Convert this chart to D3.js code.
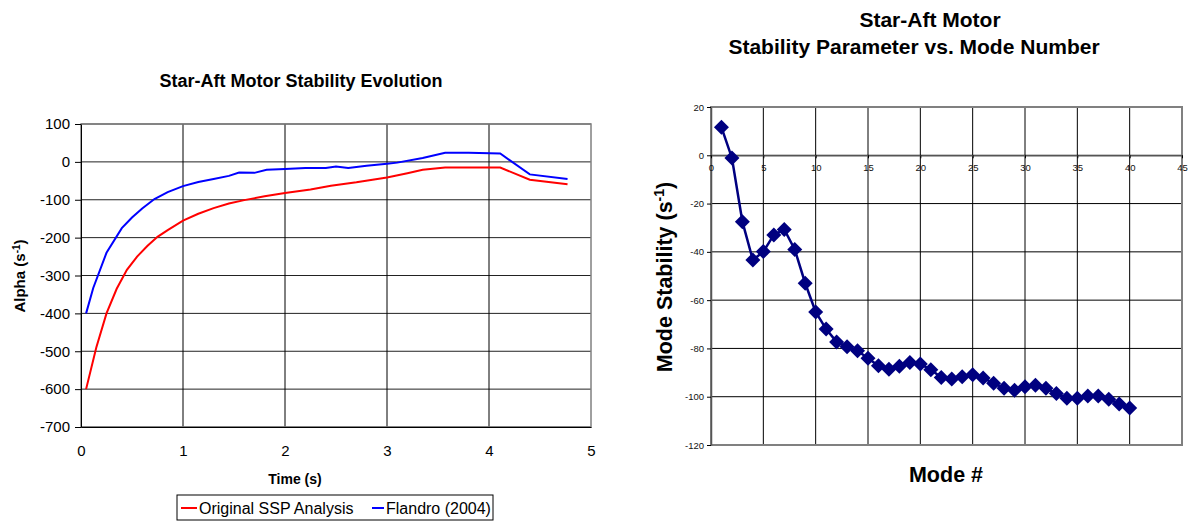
<!DOCTYPE html>
<html>
<head>
<meta charset="utf-8">
<script src="https://cdn.jsdelivr.net/npm/d3@7/dist/d3.min.js"></script>
<style>
  body { margin: 0; background: #fff; }
  svg { font-family: Arial, "Liberation Sans", sans-serif; }
</style>
</head>
<body>
<svg id="chart" width="1189" height="523"></svg>
<script>
// left chart: alpha vs time
const sspTime  = [0.05, 0.15, 0.25, 0.35, 0.45, 0.55, 0.65, 0.75, 0.85, 1.0, 1.15, 1.3, 1.45, 1.6, 1.8, 2.0, 2.25, 2.45, 2.7, 3.0, 3.2, 3.35, 3.57, 4.11, 4.4, 4.77];
const sspAlpha = [-600, -490, -400, -335, -285, -250, -222, -198, -180, -155, -137, -122, -110, -101, -91, -82, -73, -63, -54, -41, -30, -21, -15, -15, -47, -59];
const flaTime  = [0.05, 0.12, 0.25, 0.4, 0.5, 0.6, 0.72, 0.85, 1.0, 1.15, 1.3, 1.45, 1.55, 1.7, 1.82, 2.0, 2.2, 2.4, 2.5, 2.62, 2.8, 3.0, 3.1, 3.35, 3.57, 3.8, 4.11, 4.4, 4.77];
const flaAlpha = [-400, -333, -240, -175, -147, -123, -98, -80, -64, -53, -45, -37, -28, -29, -21, -19, -16, -16, -12, -16, -10, -5, -2, 10, 24, 24, 22, -33, -45];

// right chart: mode stability
const modeNum = d3.range(1, 41);
const modeStab = [11.6, -1.1, -27.5, -43.4, -39.9, -33, -30.7, -39, -53, -64.9,
  -72, -77.3, -79.3, -81, -84.1, -87.2, -88.6, -87.4, -85.8, -86.5,
  -88.8, -92, -92.7, -91.7, -90.9, -92.3, -94.4, -96.5, -97.3, -95.9,
  -95.2, -96.5, -98.7, -100.6, -100.6, -99.7, -99.7, -101, -103, -104.7];

const svg = d3.select("#chart");
const plain = d => String(d); // hyphen minus like the original

// ---------- left chart ----------
{
  const x = d3.scaleLinear().domain([0, 5]).range([81, 591]);
  const y = d3.scaleLinear().domain([-700, 100]).range([427, 124]);
  const g = svg.append("g");

  g.append("g").selectAll("line").data(d3.range(-700, 101, 100)).join("line")
    .attr("x1", 81).attr("x2", 591).attr("y1", d => y(d)).attr("y2", d => y(d))
    .attr("stroke", "#222").attr("stroke-width", 1);
  g.append("g").selectAll("line").data([1, 2, 3, 4]).join("line")
    .attr("x1", d => x(d)).attr("x2", d => x(d)).attr("y1", 124).attr("y2", 427)
    .attr("stroke", "#000").attr("stroke-width", 1);
  g.append("rect").attr("x", 81).attr("y", 124).attr("width", 510).attr("height", 303)
    .attr("fill", "none").attr("stroke", "#808080").attr("stroke-width", 1.5);

  const yAxis = g.append("g").attr("transform", "translate(81,0)")
    .call(d3.axisLeft(y).tickValues(d3.range(-700, 101, 100)).tickFormat(plain).tickSize(6).tickSizeOuter(0));
  yAxis.selectAll("text").attr("font-size", 15).attr("fill", "#000").attr("dx", "-2");
  const xAxis = g.append("g").attr("transform", "translate(0,427)")
    .call(d3.axisBottom(x).ticks(5).tickFormat(plain).tickSize(0).tickSizeOuter(0).tickPadding(18));
  xAxis.selectAll("text").attr("font-size", 15).attr("fill", "#000");
  g.selectAll(".domain").attr("stroke", "#000");

  const line = d3.line().x(d => x(d[0])).y(d => y(d[1]));
  g.append("path").datum(d3.zip(sspTime, sspAlpha)).attr("d", line)
    .attr("fill", "none").attr("stroke", "#ff0000").attr("stroke-width", 2);
  g.append("path").datum(d3.zip(flaTime, flaAlpha)).attr("d", line)
    .attr("fill", "none").attr("stroke", "#0000ff").attr("stroke-width", 2);

  g.append("text").attr("x", 301).attr("y", 87).attr("text-anchor", "middle")
    .attr("font-size", 18).attr("font-weight", "bold").text("Star-Aft Motor Stability Evolution");
  g.append("text").attr("x", 295).attr("y", 484).attr("text-anchor", "middle")
    .attr("font-size", 14).attr("font-weight", "bold").text("Time (s)");
  const yl = g.append("text").attr("transform", "translate(25,276) rotate(-90)")
    .attr("text-anchor", "middle").attr("font-size", 15).attr("font-weight", "bold");
  yl.append("tspan").text("Alpha (s");
  yl.append("tspan").attr("dy", -5).attr("font-size", 10).text("-1");
  yl.append("tspan").attr("dy", 5).text(")");

  // legend
  const lg = g.append("g");
  lg.append("rect").attr("x", 177).attr("y", 495).attr("width", 316).attr("height", 25)
    .attr("fill", "#fff").attr("stroke", "#000").attr("stroke-width", 1);
  lg.append("line").attr("x1", 181).attr("x2", 197).attr("y1", 508).attr("y2", 508)
    .attr("stroke", "#ff0000").attr("stroke-width", 2);
  lg.append("text").attr("x", 199).attr("y", 514).attr("font-size", 16).text("Original SSP Analysis");
  lg.append("line").attr("x1", 372).attr("x2", 384).attr("y1", 508).attr("y2", 508)
    .attr("stroke", "#0000ff").attr("stroke-width", 2);
  lg.append("text").attr("x", 386).attr("y", 514).attr("font-size", 16).text("Flandro (2004)");
}

// ---------- right chart ----------
{
  const x = d3.scaleLinear().domain([0, 45]).range([711, 1182]);
  const y = d3.scaleLinear().domain([-120, 20]).range([445, 107]);
  const g = svg.append("g");

  g.append("g").selectAll("line").data(d3.range(-120, 21, 20)).join("line")
    .attr("x1", 711).attr("x2", 1182).attr("y1", d => y(d)).attr("y2", d => y(d))
    .attr("stroke", "#000").attr("stroke-width", 1);
  g.append("g").selectAll("line").data(d3.range(5, 45, 5)).join("line")
    .attr("x1", d => x(d)).attr("x2", d => x(d)).attr("y1", 107).attr("y2", 445)
    .attr("stroke", "#000").attr("stroke-width", 1);
  g.append("rect").attr("x", 711).attr("y", 107).attr("width", 471).attr("height", 338)
    .attr("fill", "none").attr("stroke", "#808080").attr("stroke-width", 2);

  const yAxis = g.append("g").attr("transform", "translate(711,0)")
    .call(d3.axisLeft(y).tickValues(d3.range(-120, 21, 20)).tickFormat(plain).tickSize(4).tickSizeOuter(0));
  yAxis.selectAll("text").attr("font-size", 9.5).attr("fill", "#111");
  const xAxis = g.append("g").attr("transform", `translate(0,${y(0)})`)
    .call(d3.axisBottom(x).tickValues(d3.range(0, 46, 5)).tickFormat(plain).tickSize(3).tickSizeOuter(0).tickPadding(6));
  xAxis.selectAll("text").attr("font-size", 9.5).attr("fill", "#111");
  g.selectAll(".domain").attr("stroke", "#555").attr("stroke-width", 1.5);

  const pts = d3.zip(modeNum, modeStab);
  g.append("path").datum(pts).attr("d", d3.line().x(d => x(d[0])).y(d => y(d[1])))
    .attr("fill", "none").attr("stroke", "#000080").attr("stroke-width", 2.5);
  g.append("g").selectAll("path").data(pts).join("path")
    .attr("transform", d => `translate(${x(d[0])},${y(d[1])})`)
    .attr("d", "M0,-7.5L7.5,0L0,7.5L-7.5,0Z").attr("fill", "#000080");

  g.append("text").attr("x", 930).attr("y", 27).attr("text-anchor", "middle")
    .attr("font-size", 21).attr("font-weight", "bold").text("Star-Aft Motor");
  g.append("text").attr("x", 914).attr("y", 54).attr("text-anchor", "middle")
    .attr("font-size", 21).attr("font-weight", "bold").text("Stability Parameter vs. Mode Number");
  g.append("text").attr("x", 946).attr("y", 482).attr("text-anchor", "middle")
    .attr("font-size", 21.5).attr("font-weight", "bold").text("Mode #");
  const yl = g.append("text").attr("transform", "translate(672,277) rotate(-90)")
    .attr("text-anchor", "middle").attr("font-size", 21.5).attr("font-weight", "bold");
  yl.append("tspan").text("Mode Stability (s");
  yl.append("tspan").attr("dy", -8).attr("font-size", 14).text("-1");
  yl.append("tspan").attr("dy", 8).text(")");
}
</script>
</body>
</html>
